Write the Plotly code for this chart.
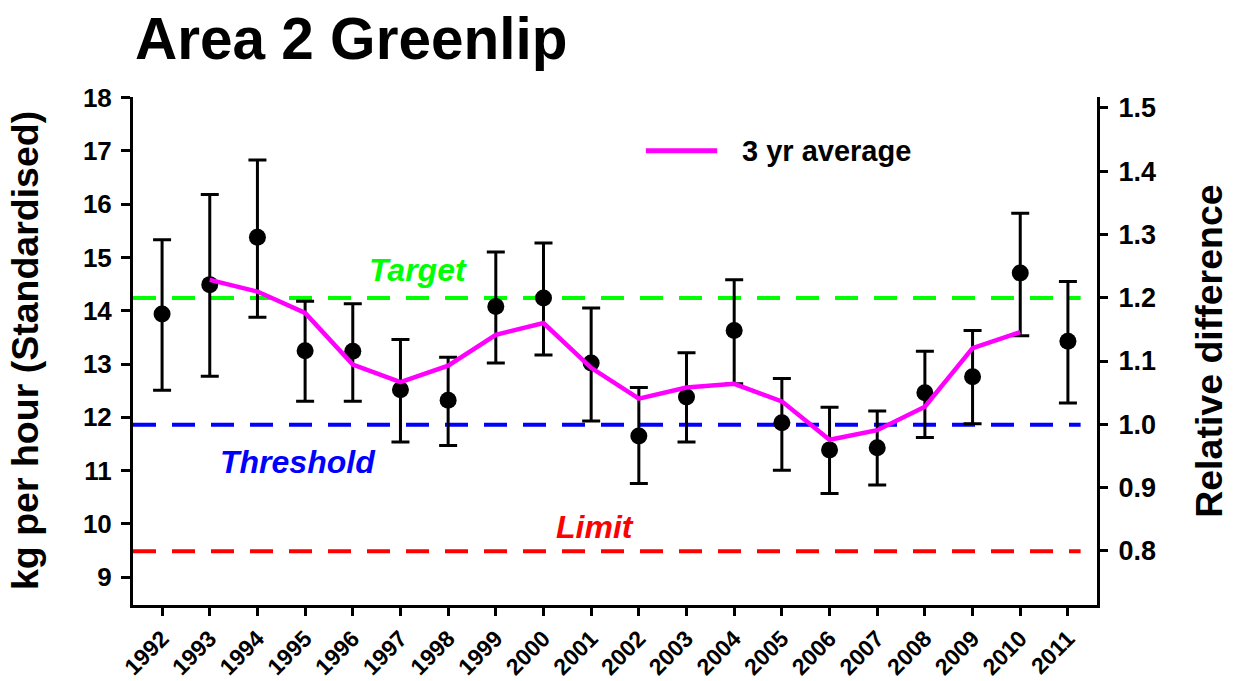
import plotly.graph_objects as go

# ---- data ----
years = list(range(1992, 2012))
cpue = [13.94, 14.49, 15.38, 13.25, 13.24, 12.52, 12.32, 14.08, 14.24, 13.02,
        11.65, 12.38, 13.63, 11.90, 11.39, 11.43, 12.46, 12.76, 14.71, 13.43]
ci_upper = [15.33, 16.18, 16.83, 14.18, 14.13, 13.46, 13.13, 15.10, 15.27, 14.05,
            12.56, 13.21, 14.58, 12.73, 12.19, 12.12, 13.24, 13.63, 15.83, 14.55]
ci_lower = [12.51, 12.77, 13.88, 12.30, 12.30, 11.54, 11.47, 13.02, 13.17, 11.93,
            10.76, 11.54, 12.63, 11.01, 10.57, 10.73, 11.62, 11.88, 13.53, 12.27]
avg_years = list(range(1993, 2011))
avg3 = [14.58, 14.36, 13.96, 12.99, 12.66, 12.97, 13.55, 13.77, 12.93,
        12.35, 12.56, 12.63, 12.30, 11.58, 11.76, 12.20, 13.30, 13.60]
ref_names = ["Target", "Threshold", "Limit"]
ref_values = [14.24, 11.86, 9.49]
ref_colors = ["#00FF00", "#0000FF", "#FF0000"]
ref_label_x = [1997.37, 1994.85, 2001.09]
ref_label_y = [14.77, 11.16, 9.94]
y_ticks = list(range(9, 19))
rel_ticks = [0.8, 0.9, 1.0, 1.1, 1.2, 1.3, 1.4, 1.5]
rel_base = 11.87

FONT = "Liberation Sans, Arial, sans-serif"
y_range = [8.48, 18.01]
x_range = [1991.39, 2011.61]

fig = go.Figure()

err_plus = [u - v for u, v in zip(ci_upper, cpue)]
err_minus = [v - l for v, l in zip(cpue, ci_lower)]

# reference lines
for name, val, col in zip(ref_names, ref_values, ref_colors):
    fig.add_shape(type="line", xref="paper", x0=0, x1=0.983, yref="y", y0=val, y1=val,
                  line=dict(color=col, width=4, dash="23px,16px"), layer="below")

fig.add_trace(go.Scatter(
    x=years, y=cpue, mode="markers",
    marker=dict(color="black", size=17),
    error_y=dict(type="data", array=err_plus, arrayminus=err_minus,
                 color="black", thickness=3, width=9),
    showlegend=False))

fig.add_trace(go.Scatter(
    x=avg_years, y=avg3, mode="lines",
    line=dict(color="#FF00FF", width=4.5), name="3 yr average", showlegend=False))

# invisible trace to activate y2
fig.add_trace(go.Scatter(x=[years[0]], y=[1.0], yaxis="y2", mode="markers",
                         marker=dict(opacity=0), showlegend=False, hoverinfo="skip"))

for name, lx, ly, col in zip(ref_names, ref_label_x, ref_label_y, ref_colors):
    fig.add_annotation(x=lx, y=ly, xref="x", yref="y", text=name, showarrow=False,
                       font=dict(family=FONT, size=32, color=col, weight="bold", style="italic"))

# legend key
fig.add_shape(type="line", xref="paper", yref="paper", x0=0.532, x1=0.606, y0=0.894, y1=0.894,
              line=dict(color="#FF00FF", width=5))
fig.add_annotation(x=0.630, y=0.894, xref="paper", yref="paper", text="3 yr average",
                   xanchor="left", yanchor="middle", showarrow=False,
                   font=dict(family=FONT, size=29, color="black", weight="bold"))

# title
fig.add_annotation(x=0.0, y=1.116, xref="paper", yref="paper", text="Area 2 Greenlip",
                   xanchor="left", yanchor="middle", showarrow=False,
                   font=dict(family=FONT, size=58.5, color="black", weight="bold"))

# axis titles
fig.add_annotation(x=-0.112, y=0.5, xref="paper", yref="paper", text="kg per hour (Standardised)",
                   textangle=-90, showarrow=False, xanchor="center", yanchor="middle",
                   font=dict(family=FONT, size=37.5, color="black", weight="bold"))
fig.add_annotation(x=1.116, y=0.5, xref="paper", yref="paper", text="Relative difference",
                   textangle=-90, showarrow=False, xanchor="center", yanchor="middle",
                   font=dict(family=FONT, size=37.5, color="black", weight="bold"))

axis_common = dict(showline=True, linecolor="black", linewidth=3, ticks="outside",
                   tickcolor="black", tickwidth=3, showgrid=False, zeroline=False,
                   automargin=False)

fig.update_layout(
    width=1237, height=681,
    margin=dict(l=133, r=140, t=97, b=76, autoexpand=False),
    paper_bgcolor="white", plot_bgcolor="white",
    font=dict(family=FONT, color="black"),
    xaxis=dict(range=x_range, tickvals=years, ticktext=[str(y) for y in years],
               tickangle=-45, ticklen=8,
               tickfont=dict(family=FONT, size=23, color="black", weight="bold"),
               **axis_common),
    yaxis=dict(range=y_range, tickvals=y_ticks, ticklen=9, ticklabelstandoff=4,
               tickfont=dict(family=FONT, size=26, color="black", weight="bold"),
               **axis_common),
    yaxis2=dict(range=[y_range[0] / rel_base, y_range[1] / rel_base], overlaying="y", side="right",
                tickvals=rel_ticks, tickformat=".1f", ticklen=8, ticklabelstandoff=5,
                tickfont=dict(family=FONT, size=27, color="black", weight="bold"),
                **axis_common),
)

fig.write_html("out.html", config={"displayModeBar": False},
               post_script="document.body.style.margin='0';document.body.style.overflow='hidden';")
